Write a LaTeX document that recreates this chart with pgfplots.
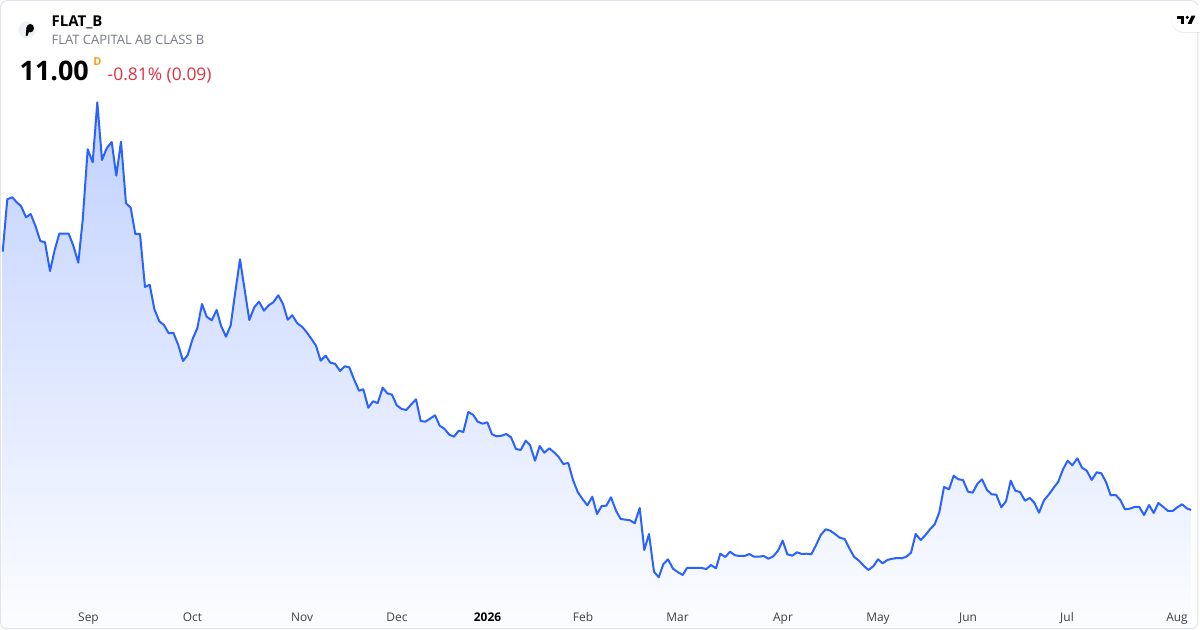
\documentclass[border=0pt]{standalone}
\usepackage{fontspec}
\setmainfont{Open Sans}
\usepackage{pgfplots}
\pgfplotsset{compat=1.18}
\usepackage{pgfplotstable}
\usetikzlibrary{shadows}
\definecolor{tvblue}{RGB}{41,98,255}
\definecolor{filltop}{RGB}{193,209,255}
\definecolor{fillbot}{RGB}{252,253,255}
\definecolor{labelgray}{RGB}{60,63,72}
\definecolor{subgray}{RGB}{120,123,134}
\definecolor{tvred}{RGB}{224,49,66}
\definecolor{tvorange}{RGB}{247,160,27}
\definecolor{cardborder}{RGB}{224,227,235}
\definecolor{logobg}{RGB}{238,240,247}

\pgfplotstableread{
x y
2.7 378.3
7.3 430.7
12.3 432.7
16.7 427.7
21 424
26 412.7
30.7 416
35.7 403.3
40.3 389
45 387.7
50 359
54.7 380
59.3 396.3
64 396.3
68.7 396.3
73.3 384.3
78.3 367.3
82.7 410
87.7 480.7
92.7 467.7
97.3 527.7
102 470
106.7 481.7
111.7 488
116.3 454.3
121 488.3
126 426.7
130.7 422.3
135.3 396
140 396
145 343
149.7 345.3
154.3 321
159.3 308.7
164 305
168.7 296.7
173.3 297.3
178.3 285
183 269
187.7 275
192.7 291.3
197.3 301.7
202 326
206.7 313.3
211.7 309.7
216.7 320
221 304.3
226 293.3
230.7 304.7
235.3 338
240 370.7
244.7 340
249.3 310
254.3 322.7
259 328.3
264 319.3
268.7 324.7
273.3 327.7
278.3 334.7
283 326
287.7 310.3
292.3 314.7
297.3 306.7
302.3 303
306.7 297.7
311.7 290.7
316 284.3
320.7 269.3
325.7 274.3
330.3 267.3
335 266.3
340 259
344.7 263.7
349.3 262.7
354 250.7
359 239.3
363.3 240.7
368.3 222.3
373 228.7
377.7 227
382.7 242.3
387.3 236.7
392 235.3
396.7 224.7
401.7 221
406.3 220
411 225.3
416 230.7
420.7 209
425.3 208.3
430 211.3
435 214.7
439.7 204.3
444.3 201.3
449.3 195.3
454 193.3
458.7 199.3
463.3 198
468.3 218
473 215.3
477.7 208.3
482.7 206.3
487.3 207.7
492 195.7
496.7 193.7
501.7 194.3
506.3 196
511 192.7
516 181
520.7 180
525.7 189.3
530 185
535 169.3
539.7 184
544.3 177.3
549.3 181.7
554 177.7
558.7 173
563.3 166
568.3 167
573 150
577.7 138
582.7 130.7
587.3 124.7
592.3 133.3
597 116
601.7 124
606.3 124.3
611 132.7
616 119.3
620.7 111
625.7 110.3
630 109.7
634.7 106.7
639.7 122
644.3 80
649 96
654 58.3
658.7 52.7
663.3 65.7
668 70.7
673 61.3
677.7 58
682.7 55
687 62
692 62
696.7 62
701.7 62
706.3 61
711 65
716 61.7
720.3 76.3
725.3 73
730 78.3
735 74.7
739.7 74
744.7 74
749.3 76
754 73.3
759 73.3
763.7 74
768.3 71.3
773.3 73.7
778 79.3
782.7 89.3
787.3 75.7
792.3 74.3
797 77.7
801.7 76
806.7 76.3
811.3 75.7
816 84.7
820.7 95
825.7 100.7
830.3 99.3
835 96
839.7 92.3
844.7 91
849.3 81.7
854 73.3
859 69.3
863.7 64.3
868.3 60
873.3 63.7
878 70.7
882.7 66.7
887.3 70
892.3 71.3
897 72
901.7 71.7
906.3 73.3
911 77.3
915.7 96
920.7 90
925.3 94.7
930 100.7
934.7 105.7
939.3 117.7
944 143
949 140.7
953.7 154.3
958.3 150.7
963 150
968 138.3
972.7 137.3
977.3 146
982 150.7
987 140
991.7 135.7
996.3 135.3
1001.3 122.7
1006 128.7
1010.7 149.3
1015.3 139.3
1020 138
1025 129.3
1029.7 132
1034.3 127.3
1039 117.3
1044 129.7
1048.7 135.3
1053.3 141.7
1058.3 148.3
1063 160.7
1067.7 169.3
1072.3 164.7
1077.3 171.7
1082 162.3
1086.7 159.3
1091.7 150
1096.7 157.7
1101.3 156.7
1106 148
1110.7 134.7
1115.7 135
1120.3 130
1125 120.7
1129.7 121.3
1134.7 123
1139.3 123
1144 115
1149 125
1153.7 117
1158.3 127
1163.3 123
1168 119
1172.7 119
1177.3 122.7
1182 125.7
1186.7 121.7
1191 120
}\pricedata

\begin{document}
\begin{tikzpicture}[x=1bp,y=1bp]
\useasboundingbox (0,0) rectangle (1200,630);
\fill[white] (0,0) rectangle (1200,630);
\begin{axis}[
  at={(0,0)}, anchor=south west,
  scale only axis, width=1200bp, height=630bp,
  xmin=0, xmax=1200, ymin=0, ymax=630,
  axis on top,
  axis line style={draw=none},
  ytick=\empty,
  xtick={88.5,192.5,302,397,487.5,583,677.5,783,878,968,1067,1177},
  xticklabels={Sep,Oct,Nov,Dec,{\color{black}\bfseries 2026},Feb,Mar,Apr,May,Jun,Jul,Aug},
  major tick length=0pt,
  xticklabel style={anchor=base, yshift=8.3bp, font=\fontsize{12}{14}\selectfont, text=labelgray, inner sep=0pt},
  clip=false,
]
\addplot[draw=none, top color=filltop, bottom color=fillbot] table[x=x,y=y] {\pricedata} \closedcycle;
\addplot[tvblue, line width=2bp, line join=round, mark=none] table[x=x,y=y] {\pricedata};
\end{axis}
% card border
\draw[cardborder, line width=1bp, rounded corners=6bp] (0.75,1.25) rectangle (1197.75,629.25);
% logo
\fill[logobg] (27,600) circle (8.5);
\fill[black] (30.2,601.8) ellipse (3.8 and 4.2);
\fill[black] (26.6,603) -- (29.6,600) -- (27.4,594) -- (25.7,594.6) -- cycle;
% header text
\node[anchor=base west, inner sep=0pt, font=\fontsize{15}{18}\selectfont\bfseries] at (51.5,603.3) {FLAT\_B};
\node[anchor=base west, inner sep=0pt, font=\fontsize{13}{16}\selectfont, text=subgray] at (51.5,585) {FLAT CAPITAL AB CLASS B};
\node[anchor=base west, inner sep=0pt, font=\fontsize{27}{32}\selectfont\bfseries, text=black] at (19.5,549) {11.00};
\node[anchor=base west, inner sep=0pt, font=\fontsize{11}{13}\selectfont\bfseries, text=tvorange] at (93.3,564.3) {D};
\node[anchor=base west, inner sep=0pt, font=\fontsize{17.5}{21}\selectfont, text=tvred] at (107.5,549) {-0.81\% (0.09)};
% TradingView badge
\begin{scope}
\clip (0,0) rectangle (1200,630);
\fill[white, drop shadow={shadow xshift=0bp, shadow yshift=-1bp, opacity=0.15}, rounded corners=12bp] (1171.5,598) rectangle (1215,625);
\fill[black] (1177,614.3) rectangle (1184.3,611.4);
\fill[black] (1180.9,614.3) rectangle (1184.3,606);
\fill[black] (1187.2,612.6) circle (1.7);
\fill[black] (1191.6,614.3) -- (1195.4,614.3) -- (1191.4,606) -- (1187.6,606) -- cycle;
\end{scope}
\end{tikzpicture}
\end{document}
